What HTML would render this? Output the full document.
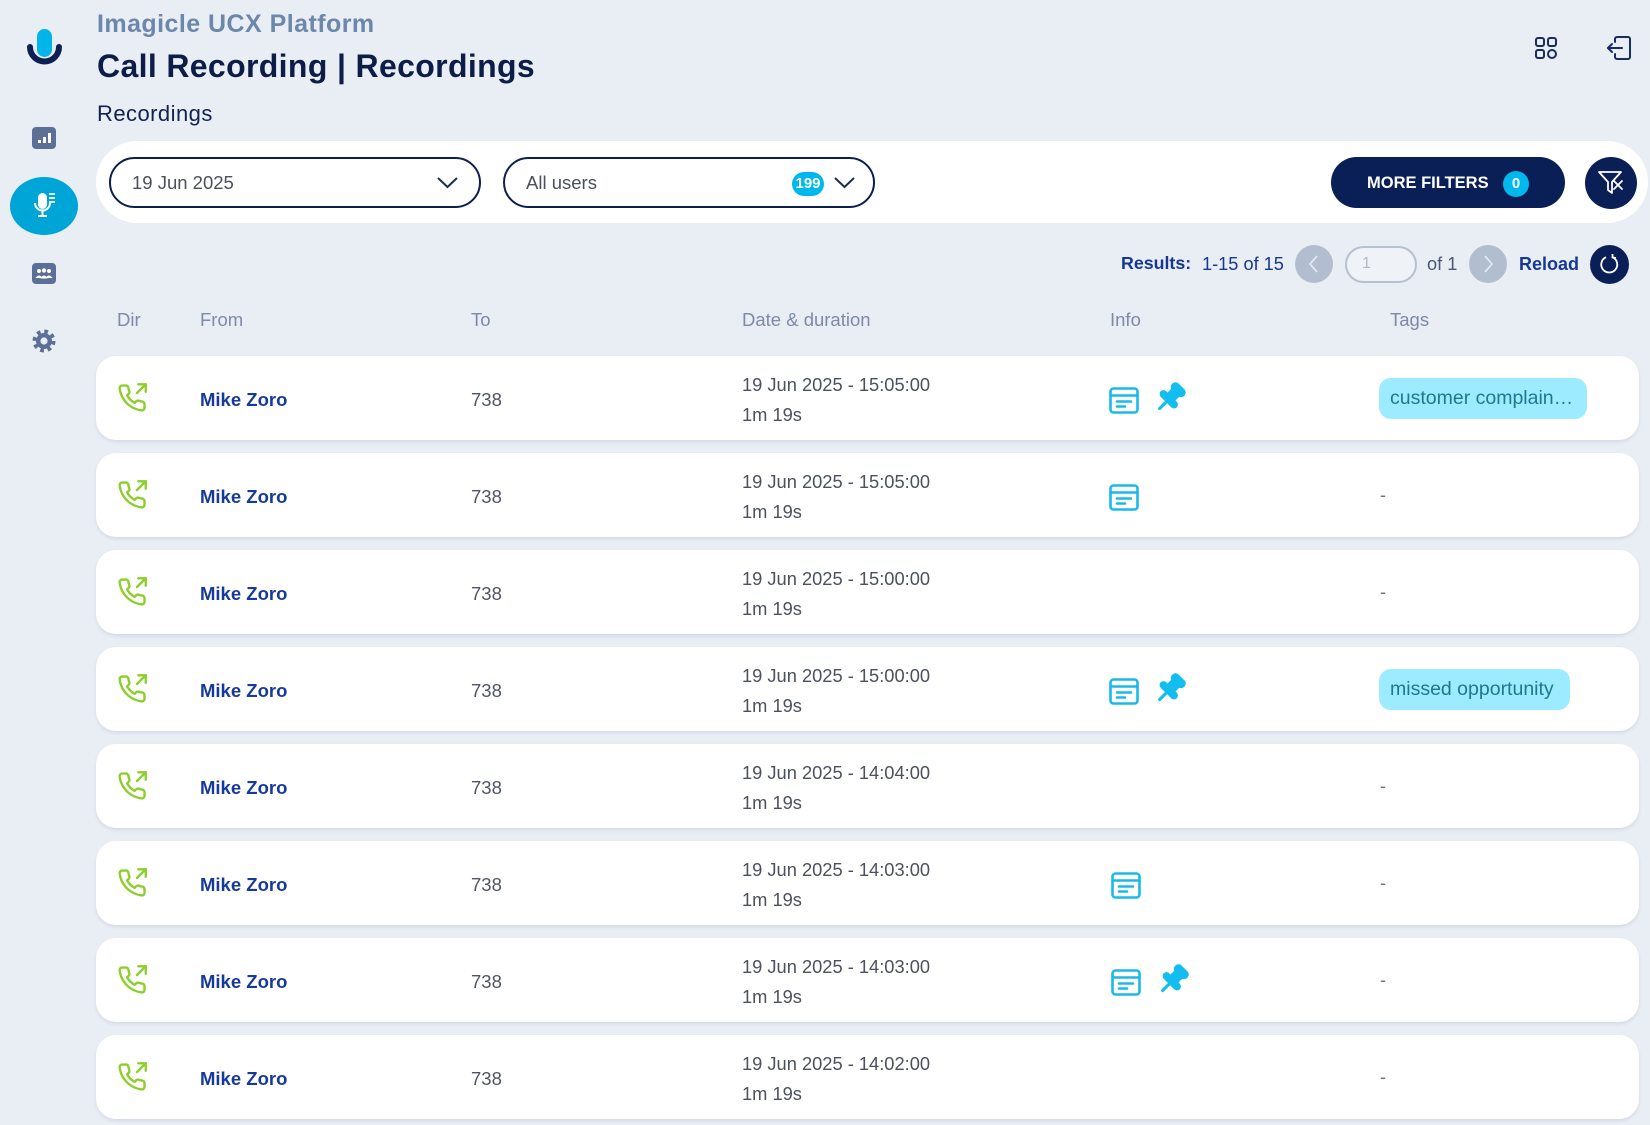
<!DOCTYPE html>
<html><head><meta charset="utf-8">
<style>
*{margin:0;padding:0;box-sizing:border-box}
html,body{width:1650px;height:1125px;overflow:hidden}
body{background:#e9edf4;font-family:"Liberation Sans",sans-serif;position:relative}
.t{position:absolute;line-height:1;white-space:nowrap}
.abs{position:absolute}
.row{position:absolute;left:96px;width:1543px;height:84px;background:#fff;border-radius:20px;box-shadow:0 2px 3px rgba(40,60,110,0.10)}
.name{left:104px;top:35px;font-size:18.5px;font-weight:bold;color:#163a9c}
.to{left:375px;top:35px;font-size:18.5px;color:#4f5663}
.date{left:646px;top:19.5px;font-size:18.3px;color:#4b515e}
.dur{left:646px;top:49.5px;font-size:18.3px;color:#4b515e}
.dash{left:1284px;top:33px;font-size:18px;color:#6d7380}
.ph{position:absolute;left:21px;top:27px}
.doc{position:absolute;left:1013px;top:31px}
.pin{position:absolute;left:1057px;top:25px}
.tag{position:absolute;left:1283px;top:22px;height:41px;border-radius:12px;background:#9debff;color:#1f7890;font-size:19.5px;line-height:41px;padding-left:11px;white-space:nowrap}
.hd{top:311px;font-size:18.5px;color:#7d8ba6}
</style></head><body>

<svg width="0" height="0" style="position:absolute">
  <defs>
    <g id="phone"><g fill="none" stroke="#8dcf2a" stroke-width="1.9" stroke-linecap="round" stroke-linejoin="round"><polyline points="23 7 23 1 17 1"/><line x1="16" y1="8" x2="23" y2="1"/><path d="M22 16.92v3a2 2 0 0 1-2.18 2 19.79 19.79 0 0 1-8.63-3.07 19.5 19.5 0 0 1-6-6 19.79 19.79 0 0 1-3.07-8.670A2 2 0 0 1 4.11 2h3a2 2 0 0 1 2 1.72 12.84 12.84 0 0 0 .7 2.81 2 2 0 0 1-.45 2.11L8.09 9.91a16 16 0 0 0 6 6l1.27-1.27a2 2 0 0 1 2.11-.45 12.84 12.84 0 0 0 2.81.7A2 2 0 0 1 22 16.92z"/></g></g>
    <g id="docic"><g fill="none" stroke="#1bb9ea" stroke-width="2.6" stroke-linecap="round"><rect x="1.5" y="1.5" width="27" height="24" rx="3"/><line x1="1.5" y1="8.5" x2="28.5" y2="8.5"/><line x1="8" y1="14.5" x2="22" y2="14.5"/><line x1="8" y1="19.5" x2="16" y2="19.5"/></g></g>
    <g id="pinic"><g transform="rotate(45 12 12)" fill="#14bdef">
      <rect x="6" y="0.5" width="12" height="6.5" rx="3"/>
      <rect x="8" y="5" width="8" height="8"/>
      <rect x="4" y="10.5" width="16" height="5.5" rx="2.7"/>
      <rect x="11" y="15" width="2.2" height="8.5" rx="1"/>
    </g></g>
  </defs>
</svg>

<!-- Sidebar logo -->
<svg class="abs" style="left:24px;top:26px" width="40" height="44" viewBox="0 0 40 44">
  <rect x="13" y="3" width="15" height="28" rx="7.5" fill="#00b5ea"/>
  <path d="M6 21 A14.5 14.5 0 0 0 35 21" fill="none" stroke="#0d1f55" stroke-width="6" stroke-linecap="round"/>
</svg>

<!-- Sidebar icons -->
<svg class="abs" style="left:32px;top:127px" width="24" height="22" viewBox="0 0 24 22">
  <rect x="0" y="0" width="24" height="22" rx="4" fill="#5b6f97"/>
  <rect x="6" y="13" width="3" height="3" fill="#fff"/>
  <rect x="11" y="10" width="3" height="6" fill="#fff"/>
  <rect x="16" y="6" width="3" height="10" fill="#fff"/>
</svg>

<div class="abs" style="left:10px;top:177px;width:68px;height:58px;border-radius:50%;background:#00a5d8"></div>
<svg class="abs" style="left:30px;top:190px" width="30" height="32" viewBox="0 0 30 32">
  <rect x="8" y="3" width="9" height="16" rx="4.5" fill="#fff"/>
  <path d="M5 13 A7.5 7.5 0 0 0 20 13" fill="none" stroke="#fff" stroke-width="2"/>
  <line x1="12.5" y1="20.5" x2="12.5" y2="26" stroke="#fff" stroke-width="2"/>
  <line x1="8" y1="26" x2="17" y2="26" stroke="#fff" stroke-width="2"/>
  <line x1="19" y1="4" x2="25" y2="4" stroke="#fff" stroke-width="1.8"/>
  <line x1="19" y1="8" x2="25" y2="8" stroke="#fff" stroke-width="1.8"/>
  <line x1="19" y1="12" x2="25" y2="12" stroke="#fff" stroke-width="1.8"/>
</svg>

<svg class="abs" style="left:32px;top:263px" width="24" height="21" viewBox="0 0 24 21">
  <rect x="0" y="0" width="24" height="21" rx="4" fill="#5b6f97"/>
  <circle cx="7" cy="8" r="2" fill="#fff"/><circle cx="12" cy="7.5" r="2.2" fill="#fff"/><circle cx="17" cy="8" r="2" fill="#fff"/>
  <path d="M3.5 15 q3.5 -5 7 0z M8.5 15.5 q3.5 -6 7 0z M13.5 15 q3.5 -5 7 0z" fill="#fff"/>
</svg>

<svg class="abs" style="left:32px;top:329px" width="24" height="24" viewBox="0 0 24 24">
  <circle cx="12" cy="12" r="8" fill="#5b6f97"/>
  <circle cx="12" cy="12" r="9.5" fill="none" stroke="#5b6f97" stroke-width="4" stroke-dasharray="3.7 3.76"/>
  <circle cx="12" cy="12" r="3.6" fill="#e9edf4"/>
</svg>

<!-- Header -->
<div class="t" style="left:97px;top:12px;font-size:25px;font-weight:bold;color:#6b87ab;letter-spacing:0.45px">Imagicle UCX Platform</div>
<div class="t" style="left:97px;top:50px;font-size:32px;font-weight:bold;color:#0d1d47;letter-spacing:0.35px">Call Recording | Recordings</div>
<div class="t" style="left:97px;top:103px;font-size:22px;color:#13234d;letter-spacing:0.45px">Recordings</div>

<!-- Top right icons -->
<svg class="abs" style="left:1534px;top:36px" width="24" height="24" viewBox="0 0 24 24">
  <g fill="none" stroke="#1a2c5e" stroke-width="2">
    <rect x="2" y="2" width="8" height="8" rx="2"/><rect x="14" y="2" width="8" height="8" rx="2"/>
    <rect x="2" y="14" width="8" height="8" rx="2"/><rect x="14" y="14" width="8" height="8" rx="4"/>
  </g>
</svg>
<svg class="abs" style="left:1605px;top:35px" width="27" height="26" viewBox="0 0 27 26">
  <g fill="none" stroke="#1a2c5e" stroke-width="2" stroke-linecap="round" stroke-linejoin="round">
    <path d="M10 7 V4 a2 2 0 0 1 2 -2 H23 a2 2 0 0 1 2 2 V22 a2 2 0 0 1 -2 2 H12 a2 2 0 0 1 -2 -2 V19"/>
    <line x1="3" y1="13" x2="17" y2="13"/>
    <polyline points="7,9 3,13 7,17"/>
  </g>
</svg>

<!-- Filter panel -->
<div class="abs" style="left:96px;top:141px;width:1552px;height:82px;border-radius:41px;background:#fff"></div>

<div class="abs" style="left:109px;top:157px;width:372px;height:51px;border:2.5px solid #0d1f4f;border-radius:26px;background:#fff"></div>
<div class="t" style="left:132px;top:174px;font-size:18.5px;color:#4a505c">19 Jun 2025</div>
<svg class="abs" style="left:437px;top:177px" width="21" height="12" viewBox="0 0 21 12"><polyline points="1,1 10.5,10 20,1" fill="none" stroke="#1d2c55" stroke-width="2"/></svg>

<div class="abs" style="left:503px;top:157px;width:372px;height:51px;border:2.5px solid #0d1f4f;border-radius:26px;background:#fff"></div>
<div class="t" style="left:526px;top:174px;font-size:18.5px;color:#4a505c">All users</div>
<div class="abs" style="left:792px;top:172px;width:32px;height:24px;border-radius:12px;background:#00b8ec;color:#fff;font-weight:bold;font-size:15px;line-height:24px;text-align:center">199</div>
<svg class="abs" style="left:834px;top:177px" width="21" height="12" viewBox="0 0 21 12"><polyline points="1,1 10.5,10 20,1" fill="none" stroke="#1d2c55" stroke-width="2"/></svg>

<div class="abs" style="left:1331px;top:157px;width:234px;height:51px;border-radius:26px;background:#0b1f57"></div>
<div class="t" style="left:1367px;top:175px;font-size:16.5px;font-weight:bold;color:#fff">MORE FILTERS</div>
<div class="abs" style="left:1503px;top:171px;width:26px;height:26px;border-radius:50%;background:#00b8ec;color:#fff;font-weight:bold;font-size:15px;line-height:26px;text-align:center">0</div>

<div class="abs" style="left:1585px;top:157px;width:52px;height:52px;border-radius:50%;background:#0b1f57"></div>
<svg class="abs" style="left:1597px;top:169px" width="28" height="28" viewBox="0 0 28 28">
  <g fill="none" stroke="#fff" stroke-width="1.8" stroke-linejoin="round" stroke-linecap="round">
    <path d="M2 3 H24 L15 13 V24 L11 21 V13 Z"/>
    <line x1="17" y1="12" x2="25" y2="20"/><line x1="25" y1="12" x2="17" y2="20"/>
  </g>
</svg>

<!-- Results row -->
<div class="t" style="left:1121px;top:255px;font-size:17.8px;font-weight:bold;color:#153893">Results:</div>
<div class="t" style="left:1202px;top:255px;font-size:18.2px;color:#153893">1-15 of 15</div>
<div class="abs" style="left:1295px;top:245px;width:38px;height:38px;border-radius:50%;background:#b2bed0"></div>
<svg class="abs" style="left:1306px;top:254px" width="16" height="20" viewBox="0 0 16 20"><polyline points="11,2 4,10 11,18" fill="none" stroke="#e6ebf2" stroke-width="1.6"/></svg>
<div class="abs" style="left:1345px;top:246px;width:72px;height:37px;border:2px solid #b6c0cf;border-radius:19px;background:#eff2f7"></div>
<div class="t" style="left:1362px;top:256px;font-size:16px;color:#b3bac6">1</div>
<div class="t" style="left:1427px;top:255px;font-size:18.2px;color:#4a5775">of 1</div>
<div class="abs" style="left:1469px;top:245px;width:38px;height:38px;border-radius:50%;background:#b2bed0"></div>
<svg class="abs" style="left:1480px;top:254px" width="16" height="20" viewBox="0 0 16 20"><polyline points="5,2 12,10 5,18" fill="none" stroke="#e6ebf2" stroke-width="1.6"/></svg>
<div class="t" style="left:1519px;top:255px;font-size:18px;font-weight:bold;color:#153893">Reload</div>
<div class="abs" style="left:1590px;top:245px;width:39px;height:39px;border-radius:50%;background:#0b1f57"></div>
<svg class="abs" style="left:1598px;top:253px" width="23" height="23" viewBox="0 0 23 23">
  <path d="M8 4.2 A8 8 0 1 0 14.5 4.2" fill="none" stroke="#fff" stroke-width="1.8"/>
  <polyline points="14.5,1 14.5,4.5 18,5" fill="none" stroke="#fff" stroke-width="1.8"/>
</svg>

<!-- Column headers -->
<div class="t hd" style="left:117px">Dir</div>
<div class="t hd" style="left:200px">From</div>
<div class="t hd" style="left:471px">To</div>
<div class="t hd" style="left:742px">Date &amp; duration</div>
<div class="t hd" style="left:1110px">Info</div>
<div class="t hd" style="left:1390px">Tags</div>

<!-- Rows -->
<div class="row" style="top:356px">
  <svg class="ph" width="30" height="30" viewBox="0 0 24 24"><use href="#phone"/></svg>
  <div class="t name">Mike Zoro</div><div class="t to">738</div>
  <div class="t date">19 Jun 2025 - 15:05:00</div><div class="t dur">1m 19s</div>
  <svg class="doc" width="30" height="27" viewBox="0 0 30 27"><use href="#docic"/></svg>
  <svg class="pin" width="34" height="34" viewBox="0 0 24 24"><use href="#pinic"/></svg>
  <div class="tag" style="width:208px">customer complain…</div>
</div>

<div class="row" style="top:453px">
  <svg class="ph" width="30" height="30" viewBox="0 0 24 24"><use href="#phone"/></svg>
  <div class="t name">Mike Zoro</div><div class="t to">738</div>
  <div class="t date">19 Jun 2025 - 15:05:00</div><div class="t dur">1m 19s</div>
  <svg class="doc" width="30" height="27" viewBox="0 0 30 27"><use href="#docic"/></svg>
  <div class="t dash">-</div>
</div>

<div class="row" style="top:550px">
  <svg class="ph" width="30" height="30" viewBox="0 0 24 24"><use href="#phone"/></svg>
  <div class="t name">Mike Zoro</div><div class="t to">738</div>
  <div class="t date">19 Jun 2025 - 15:00:00</div><div class="t dur">1m 19s</div>
  <div class="t dash">-</div>
</div>

<div class="row" style="top:647px">
  <svg class="ph" width="30" height="30" viewBox="0 0 24 24"><use href="#phone"/></svg>
  <div class="t name">Mike Zoro</div><div class="t to">738</div>
  <div class="t date">19 Jun 2025 - 15:00:00</div><div class="t dur">1m 19s</div>
  <svg class="doc" width="30" height="27" viewBox="0 0 30 27"><use href="#docic"/></svg>
  <svg class="pin" width="34" height="34" viewBox="0 0 24 24"><use href="#pinic"/></svg>
  <div class="tag" style="width:191px">missed opportunity</div>
</div>

<div class="row" style="top:744px">
  <svg class="ph" width="30" height="30" viewBox="0 0 24 24"><use href="#phone"/></svg>
  <div class="t name">Mike Zoro</div><div class="t to">738</div>
  <div class="t date">19 Jun 2025 - 14:04:00</div><div class="t dur">1m 19s</div>
  <div class="t dash">-</div>
</div>

<div class="row" style="top:841px">
  <svg class="ph" width="30" height="30" viewBox="0 0 24 24"><use href="#phone"/></svg>
  <div class="t name">Mike Zoro</div><div class="t to">738</div>
  <div class="t date">19 Jun 2025 - 14:03:00</div><div class="t dur">1m 19s</div>
  <svg class="doc" style="left:1015px" width="30" height="27" viewBox="0 0 30 27"><use href="#docic"/></svg>
  <div class="t dash">-</div>
</div>

<div class="row" style="top:938px">
  <svg class="ph" width="30" height="30" viewBox="0 0 24 24"><use href="#phone"/></svg>
  <div class="t name">Mike Zoro</div><div class="t to">738</div>
  <div class="t date">19 Jun 2025 - 14:03:00</div><div class="t dur">1m 19s</div>
  <svg class="doc" style="left:1015px" width="30" height="27" viewBox="0 0 30 27"><use href="#docic"/></svg>
  <svg class="pin" style="left:1060px" width="34" height="34" viewBox="0 0 24 24"><use href="#pinic"/></svg>
  <div class="t dash">-</div>
</div>

<div class="row" style="top:1035px">
  <svg class="ph" width="30" height="30" viewBox="0 0 24 24"><use href="#phone"/></svg>
  <div class="t name">Mike Zoro</div><div class="t to">738</div>
  <div class="t date">19 Jun 2025 - 14:02:00</div><div class="t dur">1m 19s</div>
  <div class="t dash">-</div>
</div>

</body></html>
